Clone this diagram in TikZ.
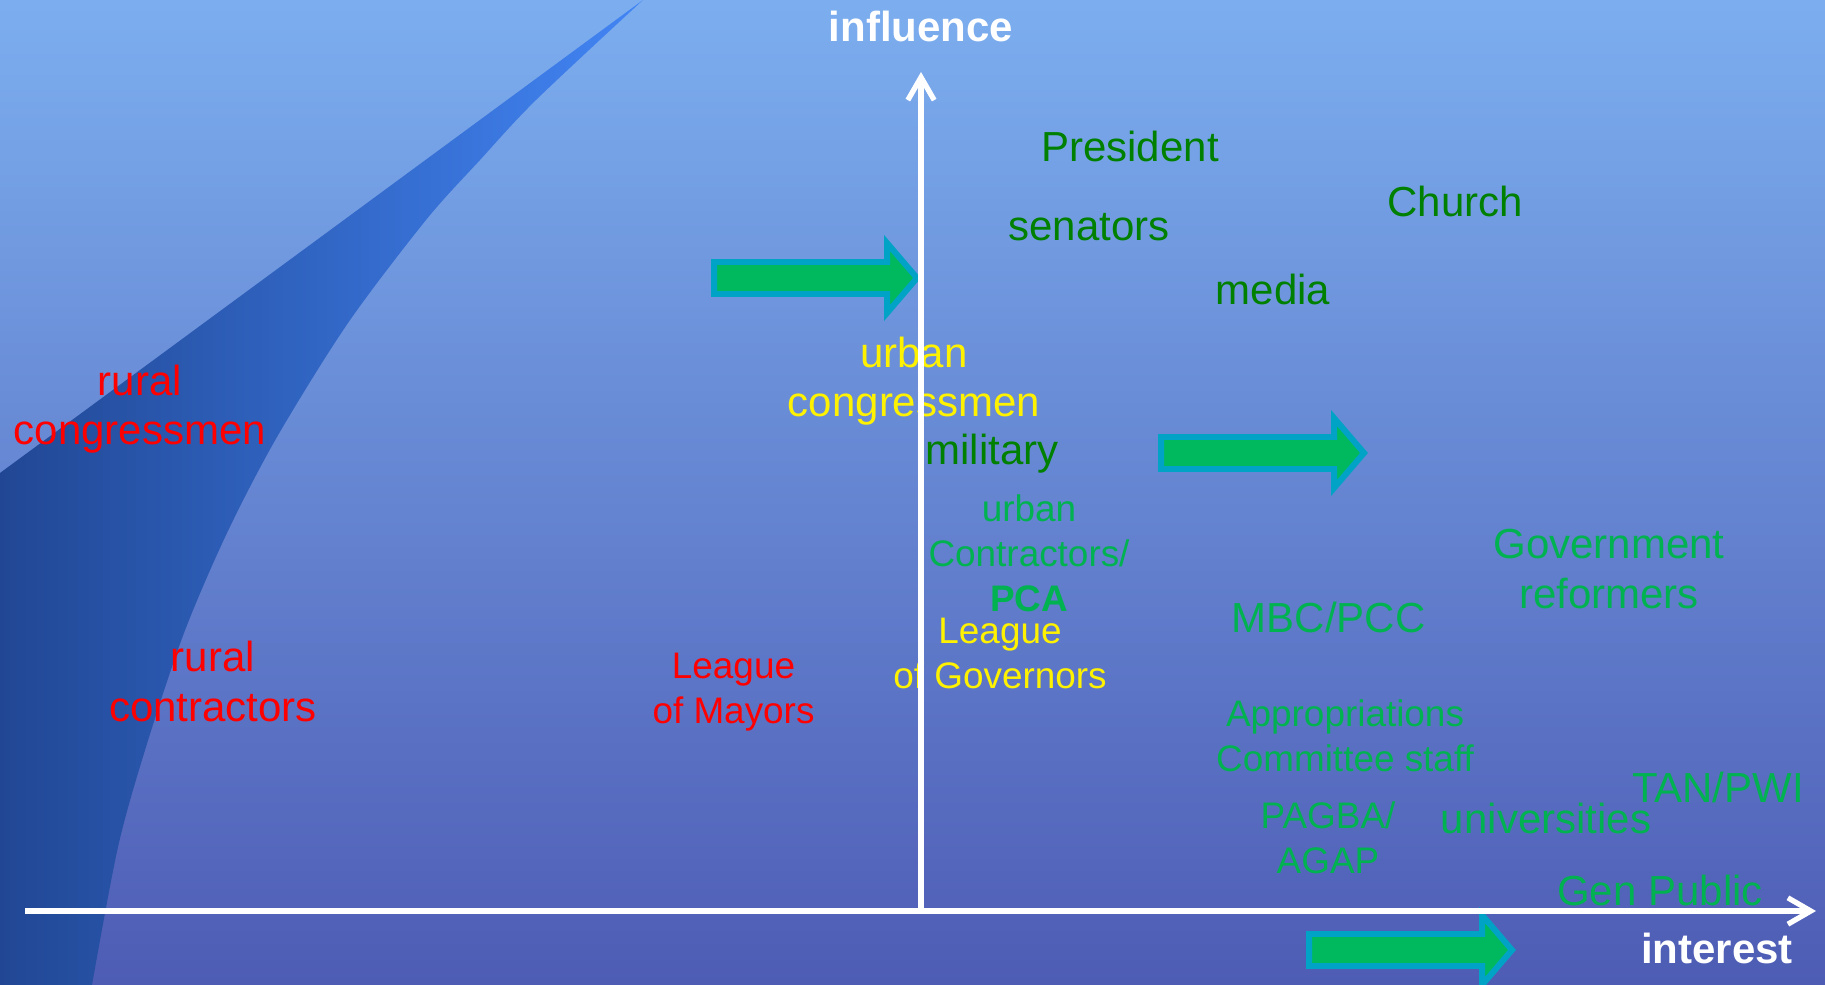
\documentclass[tikz,border=0pt]{standalone}
\usepackage{fontspec}
\setmainfont{Liberation Sans}
\usetikzlibrary{arrows.meta}
\definecolor{skytop}{RGB}{124,174,239}
\definecolor{skybottom}{RGB}{78,92,180}
\definecolor{wedgeleft}{RGB}{33,71,148}
\definecolor{wedgeright}{RGB}{66,133,245}
\definecolor{darkgreen}{RGB}{0,128,0}
\definecolor{lightgreen}{RGB}{0,178,80}
\definecolor{arrowfill}{RGB}{0,185,95}
\definecolor{arrowrim}{RGB}{0,163,198}
\tikzset{
  big/.style={font=\fontsize{11.95}{14.2}\selectfont, align=center, anchor=base, inner sep=0pt},
  small/.style={font=\fontsize{10.5}{12.7}\selectfont, align=center, anchor=base, inner sep=0pt},
  axis/.style={white, line width=1.5pt, -{Straight Barb[length=6.5pt,width=7.5pt]}},
  shiftarrow/.style={fill=arrowfill, draw=arrowrim, line width=1.7pt, miter limit=4}
}
\begin{document}
\begin{tikzpicture}[x=1cm,y=-1cm]
\clip (0,0) rectangle (18.25,9.85);
\shade[top color=skytop, bottom color=skybottom] (0,0) rectangle (18.25,9.85);
% dark wedge on the left
\shade[left color=wedgeleft, right color=wedgeright]
  (6.43,0) -- (0,4.73) -- (0,9.85) -- (0.92,9.85)
  -- plot[smooth] coordinates {(0.92,9.85) (1.18,8.47) (1.46,7.47) (1.84,6.33) (2.27,5.33) (2.77,4.37) (3.48,3.23) (4.26,2.20) (4.80,1.60) (5.36,1.00) (6.43,0)} -- cycle;

% block arrows
\foreach \ax/\ay in {7.14/2.78, 11.61/4.53, 13.09/9.50}
  \filldraw[shiftarrow] (\ax,\ay) ++(0,-0.16) -- ++(1.73,0) -- ++(0,-0.19)
    -- ++(0.30,0.35) -- ++(-0.30,0.35) -- ++(0,-0.19) -- ++(-1.73,0) -- cycle;

% stakeholders (base = last line)
\node[big, red] (rcong) at (1.40,4.45) {rural\\congressmen};
\node[big, red] (rcont) at (2.13,7.21) {rural\\contractors};
\node[small, red] (mayors) at (7.335,7.23) {League\\of Mayors};
\node[big, yellow] (ucong) at (9.14,4.17) {urban\\congressmen};
\node[small, yellow] (governors) at (10.00,6.88) {League\\of Governors};
\node[big, darkgreen] (president) at (11.30,1.62) {President};
\node[big, darkgreen] (senators) at (10.89,2.41) {senators};
\node[big, darkgreen] (media) at (12.73,3.05) {media};
\node[big, darkgreen] (church) at (14.55,2.17) {Church};
\node[big, darkgreen] (military) at (9.92,4.65) {military};
\node[small, lightgreen] (ucont) at (10.29,6.11) {urban\\Contractors/\\\textbf{PCA}};
\node[big, lightgreen] (mbc) at (13.285,6.33) {MBC/PCC};
\node[big, lightgreen] (reformers) at (16.09,6.08) {Government\\reformers};
\node[small, lightgreen] (approp) at (13.45,7.71) {Appropriations\\Committee staff};
\node[small, lightgreen] (pagba) at (13.28,8.73) {PAGBA/\\AGAP};
\node[big, lightgreen] (univ) at (15.46,8.33) {universities};
\node[big, lightgreen] (tan) at (17.18,8.02) {TAN/PWI};
\node[big, lightgreen] (genpub) at (16.60,9.05) {Gen Public};

% axes
\coordinate (origin) at (9.21,9.11);
\coordinate (xstart) at (0.25,9.11);
\coordinate (xend) at (18.16,9.11);
\coordinate (ytop) at (9.21,0.72);
\draw[axis] (xstart) -- (xend);
\draw[axis] (origin) -- (ytop);
\node[big, white, font=\fontsize{11.95}{14.2}\selectfont\bfseries] (infl) at (9.21,0.42) {influence};
\node[big, white, font=\fontsize{11.95}{14.2}\selectfont\bfseries] (intr) at (17.17,9.63) {interest};
\end{tikzpicture}
\end{document}
